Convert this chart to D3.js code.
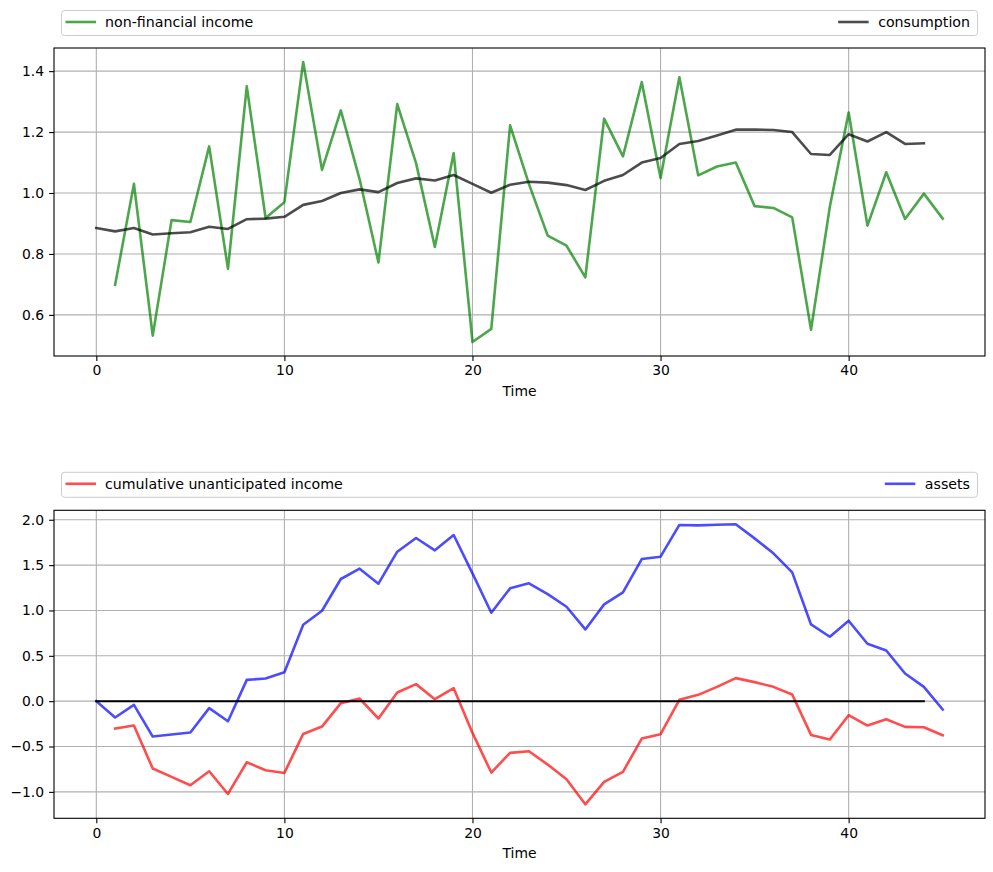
<!DOCTYPE html>
<html>
<head>
<meta charset="utf-8">
<script src="https://cdn.jsdelivr.net/npm/d3@7"></script>
<style>
  body { margin: 0; background: #fff; }
  text { font-family: "DejaVu Sans", sans-serif; }
</style>
</head>
<body>
<svg id="chart" width="993" height="872"></svg>
<script>
// ---- Data ----
const timeIncome = d3.range(1, 46);      // t = 1..45
const timeConsumption = d3.range(0, 45); // t = 0..44
const timeAssets = d3.range(0, 46);      // t = 0..45
const timeCumulative = d3.range(1, 46);  // t = 1..45

const nonFinancialIncome = [0.699, 1.030, 0.532, 0.911, 0.905, 1.153, 0.751, 1.350, 0.918, 0.970,
  1.430, 1.076, 1.271, 1.045, 0.772, 1.292, 1.098, 0.823, 1.131, 0.511,
  0.554, 1.222, 1.030, 0.860, 0.827, 0.723, 1.244, 1.120, 1.364, 1.049,
  1.380, 1.058, 1.087, 1.100, 0.957, 0.951, 0.920, 0.551, 0.955, 1.264,
  0.893, 1.068, 0.915, 0.998, 0.916];

const consumption = [0.885, 0.874, 0.885, 0.864, 0.868, 0.871, 0.889, 0.882, 0.914, 0.916,
  0.922, 0.961, 0.974, 1.000, 1.012, 1.003, 1.033, 1.048, 1.041, 1.059,
  1.030, 1.001, 1.027, 1.037, 1.034, 1.026, 1.010, 1.040, 1.059, 1.100,
  1.115, 1.161, 1.171, 1.189, 1.208, 1.208, 1.207, 1.200, 1.128, 1.125,
  1.193, 1.169, 1.200, 1.161, 1.163];

const cumulativeUnanticipated = [-0.302, -0.269, -0.743, -0.835, -0.927, -0.773, -1.023, -0.673, -0.762, -0.791,
  -0.361, -0.280, -0.022, 0.029, -0.191, 0.096, 0.188, 0.022, 0.143, -0.350,
  -0.787, -0.570, -0.552, -0.699, -0.861, -1.137, -0.890, -0.780, -0.412, -0.364,
  0.015, 0.070, 0.158, 0.254, 0.210, 0.158, 0.074, -0.372, -0.423, -0.155,
  -0.269, -0.199, -0.283, -0.287, -0.375];

const assets = [0.000, -0.180, -0.040, -0.390, -0.368, -0.346, -0.077, -0.221, 0.235, 0.250,
  0.320, 0.843, 0.997, 1.347, 1.461, 1.295, 1.648, 1.799, 1.663, 1.832,
  1.409, 0.975, 1.244, 1.299, 1.181, 1.041, 0.791, 1.067, 1.199, 1.567,
  1.593, 1.943, 1.938, 1.945, 1.950, 1.795, 1.630, 1.420, 0.846, 0.710,
  0.887, 0.633, 0.559, 0.305, 0.158, -0.092];

const zeroLine = timeConsumption.map(() => 0);

const xTicks = [0, 10, 20, 30, 40];
const yTicksTop = [0.6, 0.8, 1.0, 1.2, 1.4];
const yTicksBottom = [-1.0, -0.5, 0.0, 0.5, 1.0, 1.5, 2.0];

const legendTop = ["non-financial income", "consumption"];
const legendBottom = ["cumulative unanticipated income", "assets"];
const xLabel = "Time";

// ---- Drawing ----
const svg = d3.select("#chart");
const left = 54, right = 985;
const FS = 13.9;
const LFS = 14.2;

function margin(lo, hi) { const r = hi - lo; return [lo - 0.05 * r, hi + 0.05 * r]; }

function panel(cfg) {
  const g = svg.append("g");
  const x = d3.scaleLinear().domain(margin(0, 45)).range([left, right]);
  const allY = [].concat(...cfg.series.map(s => s.values));
  const y = d3.scaleLinear().domain(margin(d3.min(allY), d3.max(allY))).range([cfg.bottom, cfg.top]);

  // grid
  g.append("g").selectAll("line").data(cfg.xTicks).join("line")
    .attr("x1", d => x(d)).attr("x2", d => x(d))
    .attr("y1", cfg.top).attr("y2", cfg.bottom)
    .attr("stroke", "#b0b0b0").attr("stroke-width", 1.1);
  g.append("g").selectAll("line").data(cfg.yTicks).join("line")
    .attr("x1", left).attr("x2", right)
    .attr("y1", d => y(d)).attr("y2", d => y(d))
    .attr("stroke", "#b0b0b0").attr("stroke-width", 1.1);

  // series
  const clip = "clip" + cfg.id;
  g.append("clipPath").attr("id", clip).append("rect")
    .attr("x", left).attr("y", cfg.top).attr("width", right - left).attr("height", cfg.bottom - cfg.top);
  cfg.series.forEach(s => {
    const line = d3.line().x((d, i) => x(s.t[i])).y(d => y(d));
    g.append("path").datum(s.values)
      .attr("d", line)
      .attr("fill", "none")
      .attr("stroke", s.color)
      .attr("stroke-opacity", s.opacity)
      .attr("stroke-width", s.width)
      .attr("stroke-linejoin", "round")
      .attr("stroke-linecap", "square")
      .attr("clip-path", `url(#${clip})`);
  });

  // axes
  const xAxis = d3.axisBottom(x).tickValues(cfg.xTicks).tickFormat(d3.format("d")).tickSize(4.9).tickPadding(4.5);
  const ga = g.append("g").attr("transform", `translate(0,${cfg.bottom})`).call(xAxis);
  const yAxis = d3.axisLeft(y).tickValues(cfg.yTicks).tickFormat(d3.format(".1f")).tickSize(4.9).tickPadding(5);
  const gy = g.append("g").attr("transform", `translate(${left},0)`).call(yAxis);
  [ga, gy].forEach(a => {
    a.select(".domain").remove();
    a.selectAll("line").attr("stroke", "#000").attr("stroke-width", 1.1);
    a.selectAll("text").attr("font-family", "DejaVu Sans").attr("font-size", FS).attr("fill", "#000");
  });

  // frame
  g.append("rect").attr("x", left).attr("y", cfg.top)
    .attr("width", right - left).attr("height", cfg.bottom - cfg.top)
    .attr("fill", "none").attr("stroke", "#000").attr("stroke-width", 1.1);

  // x label
  g.append("text").attr("x", (left + right) / 2).attr("y", cfg.bottom + 40)
    .attr("text-anchor", "middle").attr("font-size", FS).text(xLabel);

  // legend (expanded)
  const ly = cfg.legendY;
  g.append("rect").attr("x", 61.5).attr("y", ly).attr("width", 977.5 - 61.5).attr("height", 25)
    .attr("rx", 3).attr("fill", "#fff").attr("fill-opacity", 0.8)
    .attr("stroke", "#cccccc").attr("stroke-width", 1);
  const cy = ly + 11.5;
  const s0 = cfg.series[0], s1 = cfg.series[1];
  g.append("line").attr("x1", 65.5).attr("x2", 96).attr("y1", cy).attr("y2", cy)
    .attr("stroke", s0.color).attr("stroke-opacity", s0.opacity).attr("stroke-width", s0.width);
  g.append("text").attr("x", 105).attr("y", cy).attr("dy", "0.35em").attr("font-size", LFS).text(cfg.legend[0]);
  const t2 = g.append("text").attr("x", 970).attr("y", cy).attr("dy", "0.35em")
    .attr("text-anchor", "end").attr("font-size", LFS).text(cfg.legend[1]);
  const tw = t2.node().getComputedTextLength();
  const lx2 = 970 - tw - 9.5;
  g.append("line").attr("x1", lx2 - 30.5).attr("x2", lx2).attr("y1", cy).attr("y2", cy)
    .attr("stroke", s1.color).attr("stroke-opacity", s1.opacity).attr("stroke-width", s1.width);
}

panel({
  id: "top", top: 48, bottom: 356, legendY: 10.5,
  xTicks: xTicks, yTicks: yTicksTop, legend: legendTop,
  series: [
    { t: timeIncome, values: nonFinancialIncome, color: "#008000", opacity: 0.7, width: 2.6 },
    { t: timeConsumption, values: consumption, color: "#000000", opacity: 0.7, width: 2.6 }
  ]
});

panel({
  id: "bottom", top: 510.3, bottom: 818.3, legendY: 472.3,
  xTicks: xTicks, yTicks: yTicksBottom, legend: legendBottom,
  series: [
    { t: timeCumulative, values: cumulativeUnanticipated, color: "#ff0000", opacity: 0.7, width: 2.6 },
    { t: timeAssets, values: assets, color: "#0000ff", opacity: 0.7, width: 2.6 },
    { t: timeConsumption, values: zeroLine, color: "#000000", opacity: 1, width: 2 }
  ]
});
</script>
</body>
</html>
